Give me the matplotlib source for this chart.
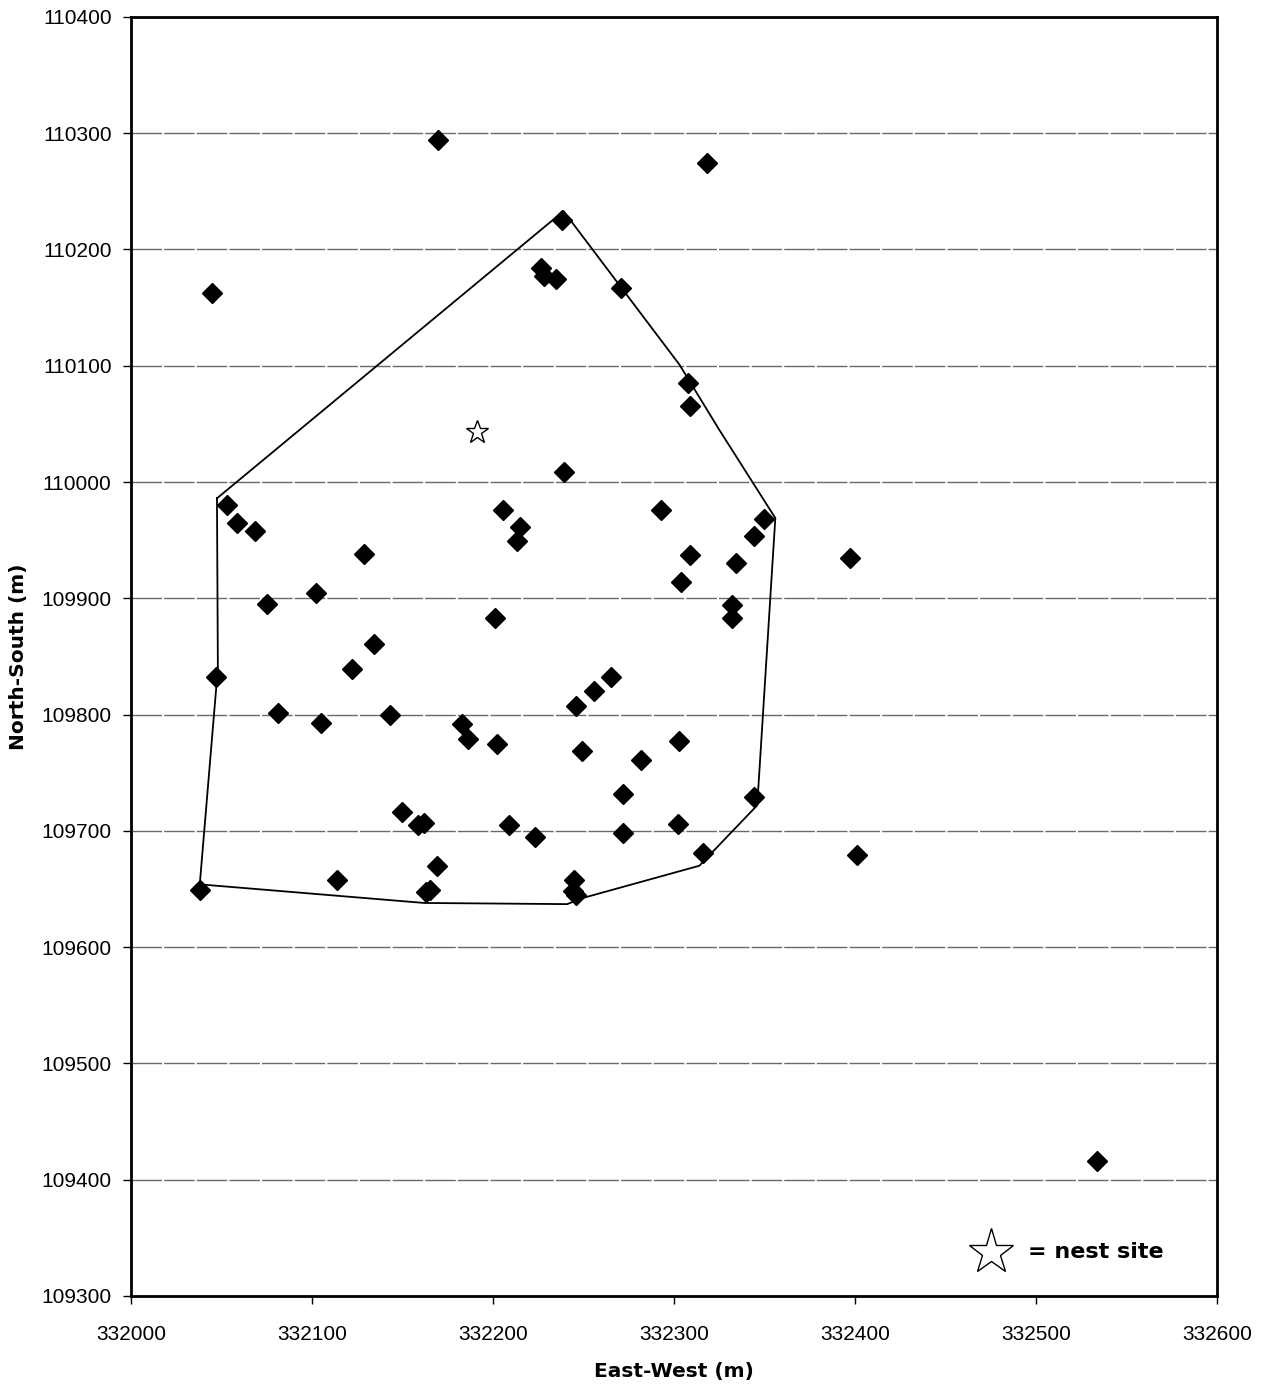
import numpy as np
import matplotlib.pyplot as plt
from matplotlib.ticker import MultipleLocator

# location fixes (m)
east = [332169.6, 332318, 332045, 332238, 332226.5, 332228, 332235, 332271,
        332308, 332309, 332239, 332053, 332058.6, 332068.5, 332205.5, 332215,
        332213, 332293, 332350, 332344, 332309, 332304, 332334, 332129,
        332075, 332102, 332201, 332332, 332332, 332047, 332134, 332122,
        332265, 332256, 332246, 332081, 332105, 332143, 332183, 332186,
        332202, 332249, 332282, 332303, 332272, 332344, 332150, 332158.6,
        332162, 332209, 332223, 332272, 332302, 332316, 332401, 332169,
        332114, 332165, 332163, 332245, 332244, 332246, 332038, 332397,
        332534]
north = [110294, 110274, 110163, 110225, 110184, 110177, 110175, 110167,
         110085, 110065, 110009, 109980, 109965, 109958, 109976, 109961,
         109949, 109976, 109968, 109954, 109937, 109914, 109930, 109938,
         109895, 109905, 109883, 109894, 109883, 109832, 109861, 109839,
         109832, 109820, 109807, 109801, 109793, 109800, 109792, 109779,
         109775, 109769, 109761, 109777, 109732, 109729, 109716, 109705,
         109707, 109705, 109695, 109698, 109706, 109681, 109679, 109670,
         109658, 109649, 109647, 109658, 109648, 109645, 109649, 109935,
         109416]

# minimum convex polygon
hull_e = [332047.5, 332048, 332038, 332162, 332241, 332249, 332314, 332346,
          332356, 332325, 332303, 332239, 332047.5]
hull_n = [109986, 109840, 109654, 109638, 109637, 109642, 109670, 109722,
          109969, 110045, 110101, 110233, 109986]

nest_e = [332191]
nest_n = [110043]

fig = plt.figure(figsize=(12.62, 13.88), dpi=100)
ax = fig.add_axes([0.1038, 0.0663, 0.8605, 0.9215])

ax.yaxis.grid(True, color='#6a6a6a', linestyle=(0, (22, 1.5)), linewidth=1)
ax.set_axisbelow(True)

ax.plot(hull_e, hull_n, color='black', linewidth=1.3, zorder=2)
ax.plot(east, north, linestyle='none', marker='D', markersize=10,
        color='black', zorder=3)
ax.plot(nest_e, nest_n, linestyle='none', marker='*', markersize=17,
        markerfacecolor='white', markeredgecolor='black',
        markeredgewidth=1, zorder=4)

ax.set_xlim(332000, 332600)
ax.set_ylim(109300, 110400)
ax.xaxis.set_major_locator(MultipleLocator(100))
ax.yaxis.set_major_locator(MultipleLocator(100))
ax.ticklabel_format(useOffset=False, style='plain')

for sp in ax.spines.values():
    sp.set_linewidth(2)
ax.tick_params(labelsize=15, length=6, width=1)
ax.tick_params(axis='y', pad=8)
ax.tick_params(axis='x', pad=15)
for lab in ax.get_xticklabels() + ax.get_yticklabels():
    lab.set_family('Liberation Sans')

ax.set_xlabel('East-West (m)', fontsize=14.5, fontweight='bold', labelpad=13)
ax.set_ylabel('North-South (m)', fontsize=14.5, fontweight='bold', labelpad=10)

# legend note for the nest symbol
ax.plot([0.792], [0.034], transform=ax.transAxes, marker='*', markersize=34,
        markerfacecolor='white', markeredgecolor='black',
        markeredgewidth=1, linestyle='none', clip_on=False)
ax.text(0.826, 0.034, '= nest site', transform=ax.transAxes, fontsize=16,
        fontweight='bold', va='center', ha='left')

fig.savefig('out.png', dpi=100)
